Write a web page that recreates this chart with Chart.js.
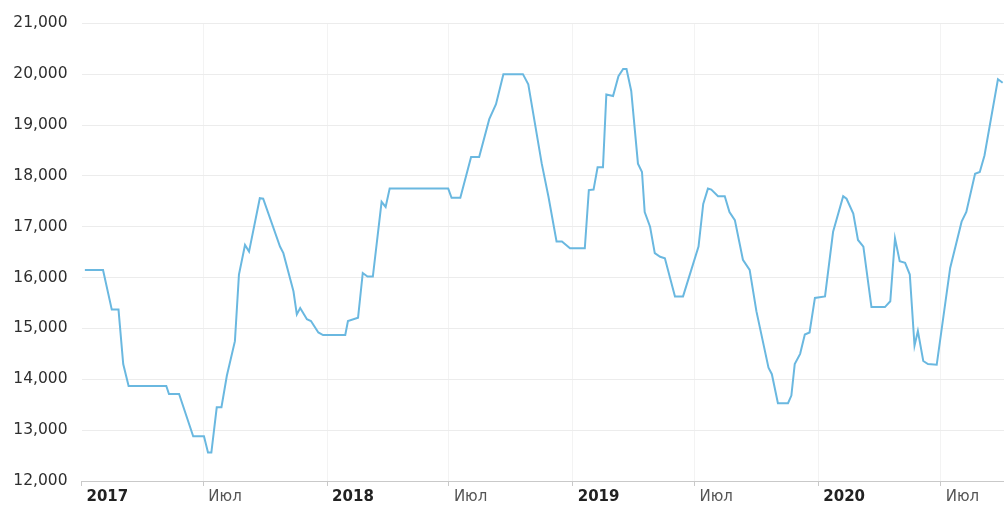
<!DOCTYPE html>
<html>
<head>
<meta charset="utf-8">
<script src="https://cdn.jsdelivr.net/npm/chart.js@4/dist/chart.umd.min.js"></script>
<style>
    body { margin: 0; background: #fff; }
</style>
</head>
<body>
<canvas id="priceChart" width="1004" height="506"></canvas>
<script>
// days since 1 Jan 2017
var dayOffsets = [5, 32, 45, 55, 62, 70, 126, 130, 145, 166, 182, 188, 193, 201, 208, 216, 228, 234, 243, 249,
    265, 270, 295, 300, 315, 320, 325, 335, 341, 352, 359, 392, 396, 411, 418, 425, 433, 446, 452, 458,
    545, 550, 563, 579, 591, 606, 616, 627, 656, 664, 684, 694, 706, 714, 726, 748, 754, 761, 767, 775,
    780, 790, 798, 805, 810, 817, 827, 833, 837, 845, 852, 860, 867, 882, 894, 917, 924, 931, 936, 946,
    956, 963, 971, 983, 993, 1003, 1021, 1026, 1035, 1050, 1055, 1060, 1068, 1075, 1082, 1090, 1105, 1117, 1132, 1137,
    1147, 1154, 1162, 1174, 1194, 1202, 1209, 1216, 1224, 1231, 1238, 1243, 1251, 1258, 1271, 1291, 1308, 1315, 1328, 1335,
    1342, 1362, 1369];
var prices = [16150, 16150, 15370, 15370, 14300, 13870, 13870, 13710, 13710, 12880, 12880, 12560, 12560, 13450, 13450, 14070, 14750, 16060, 16640, 16510,
    17560, 17550, 16610, 16480, 15730, 15275, 15400, 15180, 15145, 14920, 14870, 14870, 15145, 15210, 16090, 16020, 16020, 17490, 17390, 17750,
    17750, 17570, 17570, 18370, 18370, 19115, 19410, 20000, 20000, 19800, 18240, 17590, 16710, 16710, 16575, 16575, 17720, 17730, 18170, 18170,
    19600, 19570, 19960, 20100, 20100, 19670, 18240, 18075, 17290, 17000, 16480, 16410, 16380, 15630, 15630, 16610, 17450, 17750, 17730, 17600,
    17600, 17290, 17130, 16350, 16150, 15340, 14230, 14100, 13530, 13530, 13680, 14300, 14500, 14880, 14920, 15600, 15630, 16900, 17600, 17550,
    17260, 16740, 16610, 15420, 15420, 15535, 16770, 16320, 16290, 16060, 14660, 14950, 14360, 14300, 14285, 16190, 17100, 17290, 18040, 18075,
    18400, 19900, 19830];

var tickDays = [0, 181, 365, 546, 730, 911, 1095, 1277];
var tickLabels = ['2017', 'Июл', '2018', 'Июл', '2019', 'Июл', '2020', 'Июл'];

var points = dayOffsets.map(function (d, i) {
    return { x: d, y: prices[i] };
});

var ctx = document.getElementById('priceChart').getContext('2d');
var priceChart = new Chart(ctx, {
    type: 'line',
    data: {
        datasets: [{
            data: points,
            borderColor: 'rgb(106, 184, 224)',
            borderWidth: 2,
            pointRadius: 0,
            fill: false,
            tension: 0
        }]
    },
    options: {
        responsive: false,
        animation: false,
        devicePixelRatio: 1,
        locale: 'en-US',
        layout: {
            padding: { top: 20, right: 0, left: 0, bottom: 0 }
        },
        plugins: {
            legend: { display: false },
            tooltip: { enabled: false }
        },
        scales: {
            x: {
                type: 'linear',
                min: 0,
                max: 1371,
                afterBuildTicks: function (scale) {
                    scale.ticks = tickDays.map(function (d) { return { value: d }; });
                },
                afterFit: function (scale) { scale.height = 25; },
                border: { color: '#c9c9c9' },
                grid: {
                    color: function (c) { return c.index === 0 ? 'rgba(0,0,0,0)' : '#f3f3f3'; },
                    tickColor: '#c9c9c9',
                    tickLength: 5
                },
                ticks: {
                    autoSkip: false,
                    maxRotation: 0,
                    align: 'start',
                    labelOffset: 5,
                    padding: 2,
                    color: function (c) { return c.index % 2 === 0 ? '#222' : '#555'; },
                    font: function (c) {
                        return { family: 'DejaVu Sans', size: 15, weight: c.index % 2 === 0 ? 'bold' : 'normal' };
                    },
                    callback: function (value, index) { return tickLabels[index]; }
                }
            },
            y: {
                min: 12000,
                max: 21000,
                afterFit: function (scale) { scale.width = 81.5; },
                border: { display: false },
                grid: {
                    color: '#ececec',
                    drawTicks: false
                },
                ticks: {
                    stepSize: 1000,
                    padding: 14,
                    color: '#2e2e2e',
                    font: { family: 'DejaVu Sans', size: 15.5 }
                }
            }
        }
    }
});
</script>
</body>
</html>
